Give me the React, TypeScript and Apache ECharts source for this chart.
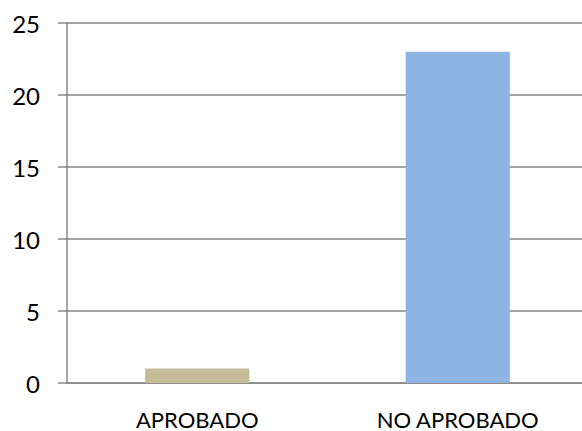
import React, { useEffect, useRef } from "react";
import * as echarts from "echarts";

const categories = ["APROBADO", "NO APROBADO"];
const values = [1, 23];
const barColors = ["#C4BD97", "#8EB4E3"];

export default function App() {
  const ref = useRef<HTMLDivElement>(null);
  useEffect(() => {
    if (!ref.current) return;
    const chart = echarts.init(ref.current, null, { renderer: "svg" });
    chart.setOption({
      animation: false,
      backgroundColor: "#ffffff",
      grid: { left: 67, right: 0, top: 23, bottom: 48, containLabel: false },
      xAxis: {
        type: "category",
        data: categories,
        axisLine: { show: true, lineStyle: { color: "#868686", width: 1.5 } },
        axisTick: { show: false },
        axisLabel: { color: "#000", fontFamily: "Lato", fontSize: 22, margin: 25 },
      },
      yAxis: {
        type: "value",
        min: 0,
        max: 25,
        interval: 5,
        axisLine: { show: true, lineStyle: { color: "#868686", width: 1.5 } },
        axisTick: { show: true, length: 9, lineStyle: { color: "#868686", width: 1.5 } },
        splitLine: { show: true, lineStyle: { color: "#868686", width: 1.5 } },
        axisLabel: { color: "#000", fontFamily: "Lato", fontSize: 24, margin: 27 },
      },
      series: [
        {
          type: "bar",
          data: values.map((v, i) => ({ value: v, itemStyle: { color: barColors[i] } })),
          barWidth: "40%",
        },
      ],
    });
    return () => chart.dispose();
  }, []);
  return (
    <div
      style={{
        position: "absolute",
        left: 0,
        top: 0,
        width: 582,
        height: 431,
        overflow: "hidden",
        background: "#fff",
      }}
    >
      <div ref={ref} style={{ width: 588, height: 431 }} />
    </div>
  );
}
